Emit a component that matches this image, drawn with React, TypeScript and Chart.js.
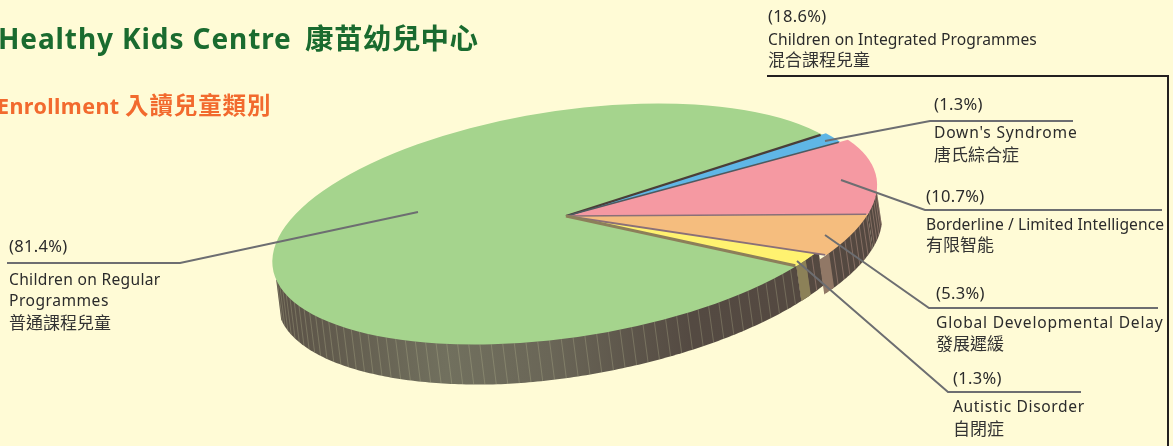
import React, { useEffect, useRef } from "react";
import { Chart, registerables } from "chart.js";

Chart.register(...registerables);

const W = 1173;
const H = 446;

// ---- data ----
const categories = [
  "Children on Regular Programmes",
  "Down's Syndrome",
  "Borderline / Limited Intelligence",
  "Global Developmental Delay",
  "Autistic Disorder",
];
const shares = [81.4, 1.3, 10.7, 5.3, 1.3];
const sliceColours = ["#A5D48D", "#5FB6E6", "#F599A2", "#F5BD7E", "#FFF270"];
const edgeColours = ["#4A3E38", "#4E5A60", "#8A7078", "#8A7078", "#8C7F5A"];

const titleLatin = "Healthy Kids Centre";
const titleCjk = "康苗幼兒中心";
const subtitleLatin = "Enrollment";
const subtitleCjk = "入讀兒童類別";

// ---- annotation layout ----
const FONT_LATIN = '"Noto Sans", "Noto Sans CJK TC", sans-serif';
const FONT_CJK = '"Noto Sans CJK TC", "Noto Sans", sans-serif';

type Block = { x: number; rows: [string, number, number, "p" | "l" | "c"][] };
const blocks: Block[] = [
  {
    x: 768,
    rows: [
      ["(18.6%)", 22, 0.3, "p"],
      ["Children on Integrated Programmes", 45, 0.1, "l"],
      ["混合課程兒童", 66, 0, "c"],
    ],
  },
  {
    x: 934,
    rows: [
      ["(1.3%)", 110, 0.3, "p"],
      ["Down's Syndrome", 138, 0.8, "l"],
      ["唐氏綜合症", 161, 0, "c"],
    ],
  },
  {
    x: 926,
    rows: [
      ["(10.7%)", 202, 0.3, "p"],
      ["Borderline / Limited Intelligence", 230, 0.08, "l"],
      ["有限智能", 251, 0, "c"],
    ],
  },
  {
    x: 936,
    rows: [
      ["(5.3%)", 299, 0.3, "p"],
      ["Global Developmental Delay", 328, 0.78, "l"],
      ["發展遲緩", 350, 0, "c"],
    ],
  },
  {
    x: 953,
    rows: [
      ["(1.3%)", 384, 0.3, "p"],
      ["Autistic Disorder", 412, 0.62, "l"],
      ["自閉症", 435, 0, "c"],
    ],
  },
  {
    x: 9,
    rows: [
      ["(81.4%)", 252, 0.3, "p"],
      ["Children on Regular", 285, 0.3, "l"],
      ["Programmes", 306, 0.5, "l"],
      ["普通課程兒童", 329, 0, "c"],
    ],
  },
];

const leaders: [number, number][][] = [
  [[825, 141], [930, 121], [1073, 121]],
  [[841, 180], [925, 210], [1162, 210]],
  [[825, 235], [929, 308], [1158, 308]],
  [[797, 261], [948, 392], [1081, 392]],
  [[418, 212], [180, 263], [7, 263]],
];

// ---- projection of the pie discs ----
type Disc = { cx: number; cy: number; r: number; k: number };
const OUTER: Disc = { cx: 575, cy: 224, r: 305, k: 0.372 };
const MIDDLE: Disc = { cx: 571, cy: 224, r: 299, k: 0.378 };
const INNER: Disc = { cx: 566.5, cy: 224, r: 297, k: 0.382 };
const sliceDiscs = [INNER, MIDDLE, OUTER, OUTER, INNER];

const TILT = (8.55 * Math.PI) / 180;
const COS = Math.cos(TILT);
const SIN = Math.sin(TILT);
const APEX_X = 566;
const APEX_Y = 216;
const FIRST_ANGLE = 45;
// perspective nudge, in degrees, of the edge that ends each slice
const edgeNudge = [-1.4, 0, 0, -0.8, 0.6];
const WALL_FROM = (6 * Math.PI) / 180;
const WALL_TO = (174 * Math.PI) / 180;
const HAIR_STEP = (2.3 * Math.PI) / 180;

const rad = (d: number) => (d * Math.PI) / 180;
const onDisc = (d: Disc, a: number): [number, number] => {
  const u = d.r * Math.cos(a);
  const w = d.r * Math.sin(a) * d.k;
  return [d.cx + u * COS + w * SIN, d.cy - u * SIN + w * COS];
};
const toDisc = (d: Disc, x: number, y: number): [number, number] => {
  const dx = x - d.cx;
  const dy = y - d.cy;
  return [dx * COS - dy * SIN, (dx * SIN + dy * COS) / d.k];
};
// Where the ray leaving the apex at a slice angle meets a disc's rim.
const rimAngle = (theta: number, d: Disc) => {
  const w = Math.sin(theta) * OUTER.k;
  const u = Math.cos(theta);
  const sx = u * COS + w * SIN;
  const sy = -u * SIN + w * COS;
  const [ax, ay] = toDisc(d, APEX_X, APEX_Y);
  const [bx, by] = toDisc(d, APEX_X + sx, APEX_Y + sy);
  const vx = bx - ax;
  const vy = by - ay;
  const qa = vx * vx + vy * vy;
  const qb = ax * vx + ay * vy;
  const qc = ax * ax + ay * ay - d.r * d.r;
  const s = (-qb + Math.sqrt(qb * qb - qa * qc)) / qa;
  return Math.atan2(ay + s * vy, ax + s * vx);
};
const depthAt = (x: number) => 40 - Math.max(0, x - 500) * 0.017;

const pie3d = {
  id: "pie3d",
  beforeDatasetDraw(chart: any) {
    const ctx: CanvasRenderingContext2D = chart.ctx;
    const arcs = chart.getDatasetMeta(0).data as any[];
    const n = arcs.length;
    const endOf = (i: number) => arcs[i].endAngle + rad(edgeNudge[i]);
    const startOf = (i: number) => endOf((i + n - 1) % n);

    const grad = ctx.createLinearGradient(275, 0, 885, 0);
    grad.addColorStop(0, "#5A5146");
    grad.addColorStop(0.1, "#625C4E");
    grad.addColorStop(0.28, "#71705E");
    grad.addColorStop(0.45, "#6A6657");
    grad.addColorStop(0.68, "#544A42");
    grad.addColorStop(1, "#544840");

    const wallBand = (d: Disc, s: number, e: number, fill: any) => {
      const start = onDisc(d, s);
      const end = onDisc(d, e);
      ctx.fillStyle = fill;
      ctx.beginPath();
      ctx.moveTo(start[0], start[1]);
      const steps = Math.max(6, Math.ceil((e - s) / rad(0.8)));
      for (let i = 0; i <= steps; i++) {
        const p = onDisc(d, s + ((e - s) * i) / steps);
        ctx.lineTo(p[0] + 5, p[1] + depthAt(p[0]));
      }
      ctx.lineTo(end[0], end[1]);
      ctx.closePath();
      ctx.fill();
    };

    // outer wall of each slice that faces the viewer, green first
    [0, 4, 3, 2].forEach((i) => {
      const d = sliceDiscs[i];
      const s = Math.max(rimAngle(startOf(i), d), WALL_FROM);
      const e = i === 0 ? WALL_TO : Math.min(rimAngle(endOf(i), d), WALL_TO);
      if (e <= s) return;
      wallBand(d, s - rad(i === 4 ? 1.2 : 0), e, grad);
      ctx.lineWidth = 1;
      ctx.strokeStyle = i === 0 ? "rgba(190,190,150,0.3)" : "rgba(235,190,170,0.32)";
      for (let a = Math.ceil(s / HAIR_STEP) * HAIR_STEP; a < e; a += HAIR_STEP) {
        const p = onDisc(d, a);
        ctx.beginPath();
        ctx.moveTo(p[0], p[1]);
        ctx.lineTo(p[0] + 5, p[1] + depthAt(p[0]));
        ctx.stroke();
      }
    });

    // cut faces seen below the small slices
    const orangeEnd = rimAngle(endOf(3), OUTER);
    wallBand(OUTER, orangeEnd - rad(0.9), orangeEnd + rad(2.4), "#917866");
    const yellowEnd = rimAngle(endOf(4), INNER);
    wallBand(INNER, yellowEnd - rad(3), yellowEnd + rad(0), "#8C8158");

    // top faces
    arcs.forEach((el, i) => {
      const d = sliceDiscs[i];
      const lap = i === 0 ? rad(1.5) : 0;
      const [ax, ay] = toDisc(d, APEX_X, APEX_Y);
      ctx.save();
      ctx.translate(d.cx, d.cy);
      ctx.rotate(-TILT);
      ctx.scale(1, d.k);
      ctx.beginPath();
      ctx.moveTo(ax, ay);
      ctx.arc(0, 0, d.r, rimAngle(startOf(i), d) - lap, rimAngle(endOf(i), d) + lap);
      ctx.closePath();
      ctx.restore();
      ctx.fillStyle = el.options.backgroundColor;
      ctx.fill();
    });

    // seams between slices, from the apex to the rim
    const seamWidths = [2.2, 1.6, 1.6, 1.8, 3];
    seamWidths.forEach((width, i) => {
      const d = sliceDiscs[i];
      const p = onDisc(d, rimAngle(endOf(i), d));
      ctx.strokeStyle = edgeColours[i];
      ctx.lineWidth = width;
      ctx.beginPath();
      ctx.moveTo(APEX_X, APEX_Y);
      ctx.lineTo(APEX_X + (p[0] - APEX_X) * 0.995, APEX_Y + (p[1] - APEX_Y) * 0.995);
      ctx.stroke();
    });
    return false;
  },
  afterDraw(chart: any) {
    const ctx: CanvasRenderingContext2D = chart.ctx;
    ctx.save();

    // frame
    ctx.strokeStyle = "#231F20";
    ctx.lineWidth = 2;
    ctx.beginPath();
    ctx.moveTo(767, 76);
    ctx.lineTo(1168, 76);
    ctx.lineTo(1168, H);
    ctx.stroke();

    // leaders
    ctx.strokeStyle = "#6D6E71";
    ctx.lineWidth = 2;
    for (const pts of leaders) {
      ctx.beginPath();
      pts.forEach((p, i) => (i ? ctx.lineTo(p[0], p[1]) : ctx.moveTo(p[0], p[1])));
      ctx.stroke();
    }

    // headings
    ctx.textBaseline = "alphabetic";
    ctx.textAlign = "left";
    ctx.fillStyle = "#1A6B2F";
    ctx.font = `bold 28px ${FONT_LATIN}`;
    (ctx as any).letterSpacing = "0.9px";
    ctx.fillText(titleLatin, -2, 49);
    ctx.font = `bold 28.5px ${FONT_CJK}`;
    (ctx as any).letterSpacing = "0.4px";
    ctx.fillText(titleCjk, 305, 49);
    ctx.fillStyle = "#F26A2E";
    ctx.font = `bold 21.5px ${FONT_LATIN}`;
    (ctx as any).letterSpacing = "0.4px";
    ctx.fillText(subtitleLatin, -3, 114);
    ctx.font = `bold 23.5px ${FONT_CJK}`;
    (ctx as any).letterSpacing = "0.9px";
    ctx.fillText(subtitleCjk, 125, 114);

    // labels
    for (const b of blocks) {
      for (const [text, y, spacing, kind] of b.rows) {
        (ctx as any).letterSpacing = `${spacing}px`;
        ctx.fillStyle = kind === "c" ? "#333333" : "#2B2B2B";
        ctx.font =
          kind === "c"
            ? `17px ${FONT_CJK}`
            : kind === "p"
              ? `16.5px ${FONT_LATIN}`
              : `15.6px ${FONT_LATIN}`;
        ctx.fillText(text, b.x, y);
      }
    }
    ctx.restore();
  },
};

export default function App() {
  const ref = useRef<HTMLCanvasElement | null>(null);
  useEffect(() => {
    document.body.style.margin = "0";
    document.body.style.background = "#FFFBD6";
    const chart = new Chart(ref.current as HTMLCanvasElement, {
      type: "pie",
      data: {
        labels: categories,
        datasets: [{ data: shares, backgroundColor: sliceColours, borderWidth: 0 }],
      },
      options: {
        responsive: false,
        animation: false,
        devicePixelRatio: 1,
        rotation: FIRST_ANGLE + 90,
        plugins: { legend: { display: false }, tooltip: { enabled: false } },
      },
      plugins: [pie3d],
    } as any);
    return () => chart.destroy();
  }, []);
  return (
    <canvas
      ref={ref}
      width={W}
      height={H}
      style={{ display: "block", width: W, height: H, background: "#FFFBD6" }}
    />
  );
}
